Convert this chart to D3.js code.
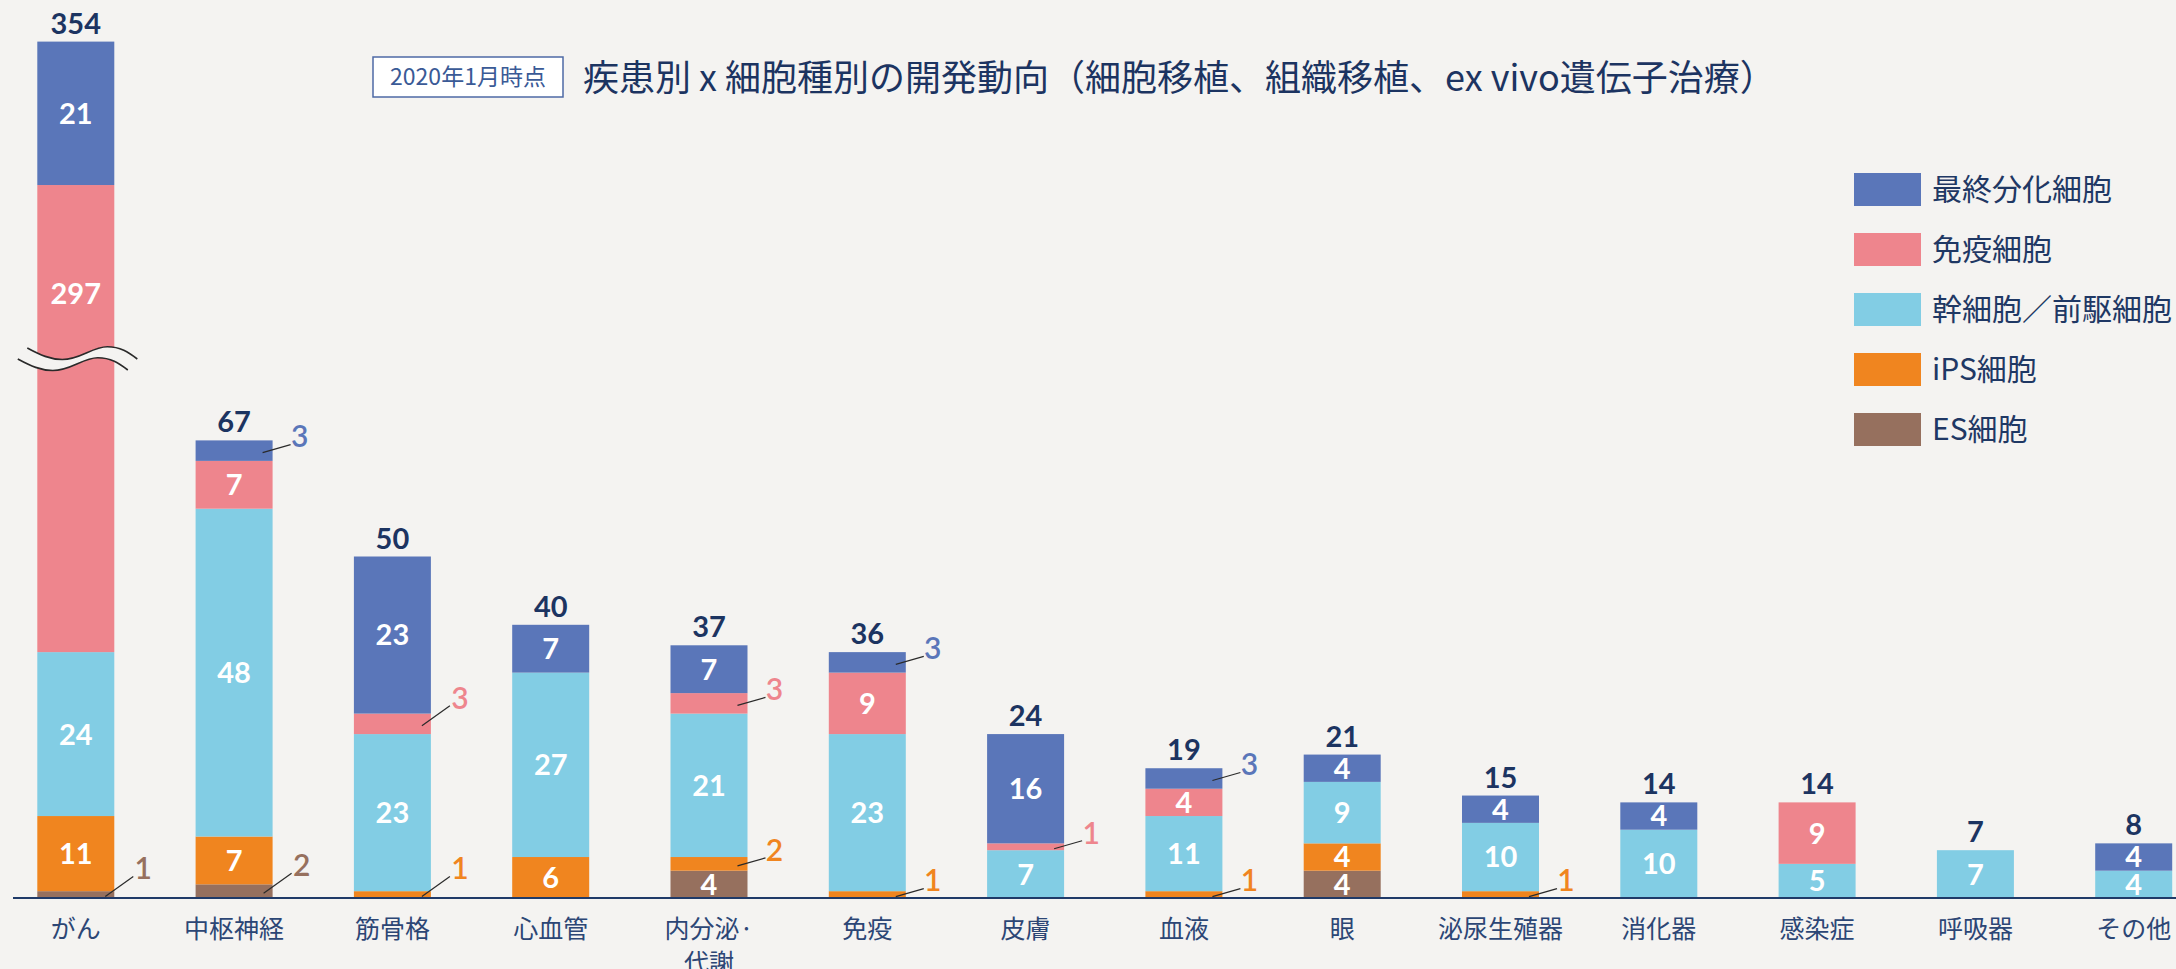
<!DOCTYPE html>
<html>
<head>
<meta charset="utf-8">
<script src="https://d3js.org/d3.v7.min.js"></script>
<style>
  body { margin: 0; background: #f4f3f1; }
  svg { display: block; }
</style>
</head>
<body>
<svg id="chart"></svg>
<script>
// data
var categories = ["がん", "中枢神経", "筋骨格", "心血管", "内分泌·\n代謝", "免疫", "皮膚", "血液", "眼", "泌尿生殖器", "消化器", "感染症", "呼吸器", "その他"];
var seriesNames = ["最終分化細胞", "免疫細胞", "幹細胞／前駆細胞", "iPS細胞", "ES細胞"];
var terminal = [21, 3, 23, 7, 7, 3, 16, 3, 4, 4, 4, 0, 0, 4];
var immune   = [297, 7, 3, 0, 3, 9, 1, 4, 0, 0, 0, 9, 0, 0];
var stem     = [24, 48, 23, 27, 21, 23, 7, 11, 9, 10, 10, 5, 7, 4];
var ips      = [11, 7, 1, 6, 2, 1, 0, 1, 4, 1, 0, 0, 0, 0];
var es       = [1, 2, 0, 0, 4, 0, 0, 0, 4, 0, 0, 0, 0, 0];
var badgeText = "2020年1月時点";
var titleText = "疾患別 x 細胞種別の開発動向（細胞移植、組織移植、ex vivo遺伝子治療）";

var keys = ["terminal", "immune", "stem", "ips", "es"];       // legend order
var stackKeys = ["es", "ips", "stem", "immune", "terminal"];  // bottom -> top
var colors = {
    terminal: "#5a76b9",
    immune: "#ee858d",
    stem: "#82cde4",
    ips: "#f0851f",
    es: "#96705e"
};
var navy = "#1c3461";
var numFont = "Lato, 'Noto Sans', sans-serif";
var jpFont = "'Noto Sans CJK JP', 'Noto Sans', sans-serif";

var width = 2176, height = 969;
var baseY = 898, pxPerUnit = 6.83, breakY = 358;

var svg = d3.select("#chart").attr("width", width).attr("height", height);
svg.append("rect").attr("width", width).attr("height", height).attr("fill", "#f4f3f1");

var rows = categories.map(function(c, i) {
    return { cat: c, terminal: terminal[i], immune: immune[i], stem: stem[i], ips: ips[i], es: es[i] };
});
var totals = rows.map(function(r) { return d3.sum(stackKeys, function(k) { return r[k]; }); });
var series = d3.stack().keys(stackKeys)(rows);

// x: band scale
var x = d3.scaleBand()
    .domain(categories)
    .range([0, 2209.5])
    .paddingInner(0.5136)
    .paddingOuter(0.2356);

// y: broken scale, the first bar (がん) is compressed between the other bars' max and its top segment
var maxOther = d3.max(totals.slice(1));
var bigTotal = totals[0];
var bigTopStart = bigTotal - terminal[0];
var topY = 41.6;
var y = d3.scaleLinear()
    .domain([0, maxOther, bigTopStart, bigTotal])
    .range([baseY, baseY - maxOther * pxPerUnit, topY + terminal[0] * pxPerUnit, topY]);

// bars
var layer = svg.selectAll(".layer")
    .data(series)
    .enter()
    .append("g")
    .attr("class", "layer")
    .attr("fill", function(d) { return colors[d.key]; });

layer.selectAll("rect")
    .data(function(d) { return d; })
    .enter()
    .append("rect")
    .attr("x", function(d) { return x(d.data.cat); })
    .attr("width", x.bandwidth())
    .attr("y", function(d) { return y(d[1]); })
    .attr("height", function(d) { return y(d[0]) - y(d[1]); });

// wavy break on the big bar
var bx = x(categories[0]);
function wave(dx, dy) {
    var p = d3.path();
    var c = breakY;
    p.moveTo(bx - 10 + dx, c - 10 + dy);
    p.bezierCurveTo(bx + 3 + dx, c - 3 + dy, bx + 13 + dx, c + 1.5 + dy, bx + 25 + dx, c + 1.5 + dy);
    p.bezierCurveTo(bx + 43 + dx, c + 1.5 + dy, bx + 55 + dx, c - 11.3 + dy, bx + 70 + dx, c - 11.3 + dy);
    p.bezierCurveTo(bx + 83 + dx, c - 11.3 + dy, bx + 91 + dx, c - 6 + dy, bx + 100 + dx, c + 1 + dy);
    return p;
}
function waveBand() {
    // region between the two lines, filled with background
    var up = wave(0, 0).toString();
    var lo = d3.path();
    var c = breakY, dx = -9.5, dy = 11;
    lo.moveTo(bx + 100 + dx, c + 1 + dy);
    lo.bezierCurveTo(bx + 91 + dx, c - 6 + dy, bx + 83 + dx, c - 11.3 + dy, bx + 70 + dx, c - 11.3 + dy);
    lo.bezierCurveTo(bx + 55 + dx, c - 11.3 + dy, bx + 43 + dx, c + 1.5 + dy, bx + 25 + dx, c + 1.5 + dy);
    lo.bezierCurveTo(bx + 13 + dx, c + 1.5 + dy, bx + 3 + dx, c - 3 + dy, bx - 10 + dx, c - 10 + dy);
    return up + "L" + lo.toString().slice(1) + "Z";
}
svg.append("path").attr("d", waveBand()).attr("fill", "#f4f3f1");
svg.append("path").attr("d", wave(0, 0).toString()).attr("fill", "none").attr("stroke", "#2a2a2a").attr("stroke-width", 1.6);
svg.append("path").attr("d", wave(-9.5, 11).toString()).attr("fill", "none").attr("stroke", "#2a2a2a").attr("stroke-width", 1.6);

// x axis
svg.append("line")
    .attr("x1", 13).attr("x2", width)
    .attr("y1", baseY).attr("y2", baseY)
    .attr("stroke", "#1f3a68").attr("stroke-width", 2);

var xAxis = svg.append("g")
    .attr("transform", "translate(0," + baseY + ")")
    .call(d3.axisBottom(x).tickSize(0).tickPadding(0));
xAxis.select(".domain").remove();
xAxis.selectAll(".tick text").remove();
xAxis.selectAll(".tick").append("text")
    .attr("text-anchor", "middle")
    .style("font-family", jpFont)
    .style("font-size", "25px")
    .attr("fill", "#2c4675")
    .each(function(d) {
        var t = d3.select(this);
        d.split("\n").forEach(function(line, i) {
            t.append("tspan").attr("x", 0).attr("y", 31 + i * 34).attr("dy", "0.35em").text(line);
        });
    });

// labels inside segments and callouts for small ones
var steep = { "がん|es": 1, "中枢神経|es": 1, "筋骨格|ips": 1, "筋骨格|immune": 1 };
series.forEach(function(s) {
    s.forEach(function(d, i) {
        var v = d[1] - d[0];
        if (v <= 0) return;
        var cx = x(d.data.cat) + x.bandwidth() / 2;
        var right = x(d.data.cat) + x.bandwidth();
        var top = y(d[1]), bot = y(d[0]);
        var mid = (top + bot) / 2;
        if (v >= 4) {
            if (i === 0 && s.key === "immune") mid = (top + breakY) / 2 + 22;
            svg.append("text")
                .attr("x", cx).attr("y", mid).attr("dy", "0.36em")
                .attr("text-anchor", "middle")
                .style("font-family", numFont).style("font-weight", 700).style("font-size", "29px")
                .attr("fill", "#fff")
                .text(v);
        } else {
            var st = steep[d.data.cat + "|" + s.key];
            var l = st ? { x1: -9, y1: 2, x2: 19, y2: -18, lx: 29, ly: -26 }
                       : { x1: -10, y1: 2, x2: 18, y2: -6, lx: 27, ly: -14 };
            svg.append("line")
                .attr("x1", right + l.x1).attr("y1", mid + l.y1)
                .attr("x2", right + l.x2).attr("y2", mid + l.y2)
                .attr("stroke", "#2a2a2a").attr("stroke-width", 1.2);
            svg.append("text")
                .attr("x", right + l.lx).attr("y", mid + l.ly).attr("dy", "0.36em")
                .attr("text-anchor", "middle")
                .style("font-family", numFont).style("font-weight", 600).style("font-size", "30px")
                .attr("fill", colors[s.key])
                .text(v);
        }
    });
});

// totals
svg.selectAll(".total")
    .data(rows)
    .enter()
    .append("text")
    .attr("class", "total")
    .attr("x", function(d) { return x(d.cat) + x.bandwidth() / 2; })
    .attr("y", function(d, i) { return y(totals[i]) - 8; })
    .attr("text-anchor", "middle")
    .style("font-family", numFont).style("font-weight", 700).style("font-size", "29px")
    .attr("fill", navy)
    .text(function(d, i) { return totals[i]; });

// badge + title
svg.append("rect")
    .attr("x", 373).attr("y", 57).attr("width", 190).attr("height", 40)
    .attr("fill", "#fff").attr("stroke", "#4d6aa5").attr("stroke-width", 1.5);
svg.append("text")
    .attr("x", 468).attr("y", 77).attr("dy", "0.35em")
    .attr("text-anchor", "middle")
    .style("font-family", jpFont).style("font-size", "23px")
    .attr("fill", "#3a5a96")
    .text(badgeText);
svg.append("text")
    .attr("x", 583).attr("y", 78).attr("dy", "0.35em")
    .style("font-family", jpFont).style("font-size", "36px")
    .attr("fill", navy)
    .text(titleText);

// legend
var legend = svg.selectAll(".legend")
    .data(keys)
    .enter()
    .append("g")
    .attr("class", "legend")
    .attr("transform", function(d, i) { return "translate(1854," + (173 + i * 60) + ")"; });
legend.append("rect")
    .attr("width", 67).attr("height", 33)
    .attr("fill", function(d) { return colors[d]; });
legend.append("text")
    .attr("x", 78).attr("y", 16.5).attr("dy", "0.35em")
    .style("font-family", jpFont).style("font-size", "30px")
    .attr("fill", "#1f3864")
    .text(function(d, i) { return seriesNames[i]; });
</script>
</body>
</html>
